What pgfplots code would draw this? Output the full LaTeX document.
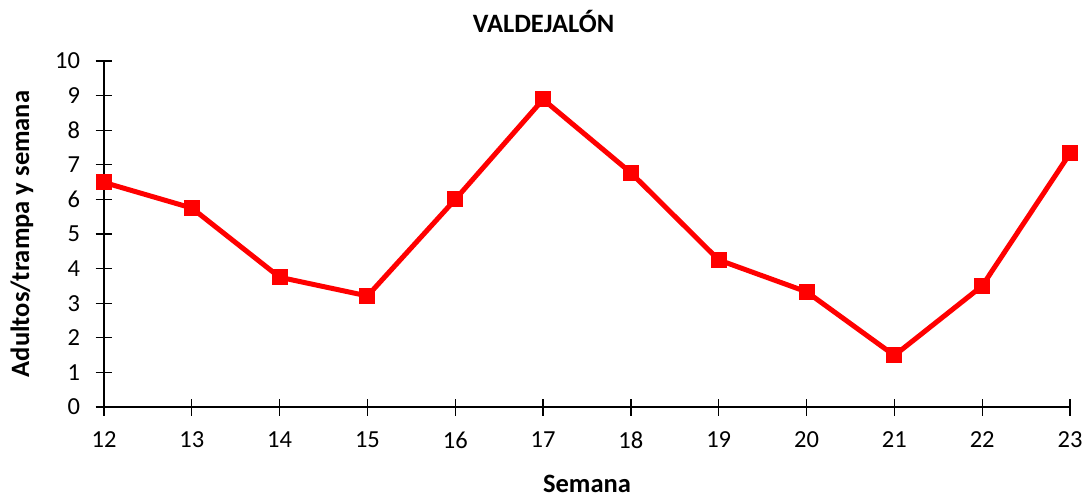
\documentclass[border=0pt]{standalone}
\usepackage{pgfplots}
\pgfplotsset{compat=1.18}
\usepackage{fontspec}
\setmainfont{Carlito}
\definecolor{serie}{RGB}{255,0,0}
\begin{document}
\begin{tikzpicture}[x=1pt,y=1pt]
\useasboundingbox (0,0) rectangle (1086,-500);
\begin{axis}[
  at={(104pt,-407pt)}, anchor=south west,
  scale only axis, width=966pt, height=346pt,
  xmin=12, xmax=23, ymin=0, ymax=10,
  axis x line*=bottom, axis y line*=left,
  axis line style={black, line width=1.3pt, -},
  xtick={12,...,23}, ytick={0,...,10},
  tick align=center, major tick length=17pt,
  tick style={black, line width=1.3pt},
  /pgf/number format/assume math mode=true,
  ticklabel style={font=\fontsize{24.5}{28}\selectfont},
  xticklabel style={yshift=-13pt},
  yticklabel style={xshift=-12pt},
  title={\textbf{VALDEJALÓN}},
  title style={font=\fontsize{26.5}{30}\selectfont, at={(axis description cs:0.455,1.098)}, anchor=center},
  xlabel={\textbf{Semana}},
  xlabel style={font=\fontsize{26.5}{30}\selectfont, at={(axis description cs:0.5,-0.2225)}, anchor=center},
  ylabel={\textbf{Adultos/trampa y semana}},
  ylabel style={font=\fontsize{26.5}{30}\selectfont, at={(axis description cs:-0.0849,0.5)}, anchor=center, rotate=0},
  clip=false,
]
\addplot[serie, line width=5pt, mark=square*, mark size=7.5pt, mark options={solid, fill=serie, draw=serie, line width=0pt}]
coordinates {
(12,6.49) (13,5.75) (14,3.75) (15,3.21) (16,6.0) (17,8.89)
(18,6.77) (19,4.25) (20,3.33) (21,1.49) (22,3.50) (23,7.33)
};
\end{axis}
\end{tikzpicture}
\end{document}
